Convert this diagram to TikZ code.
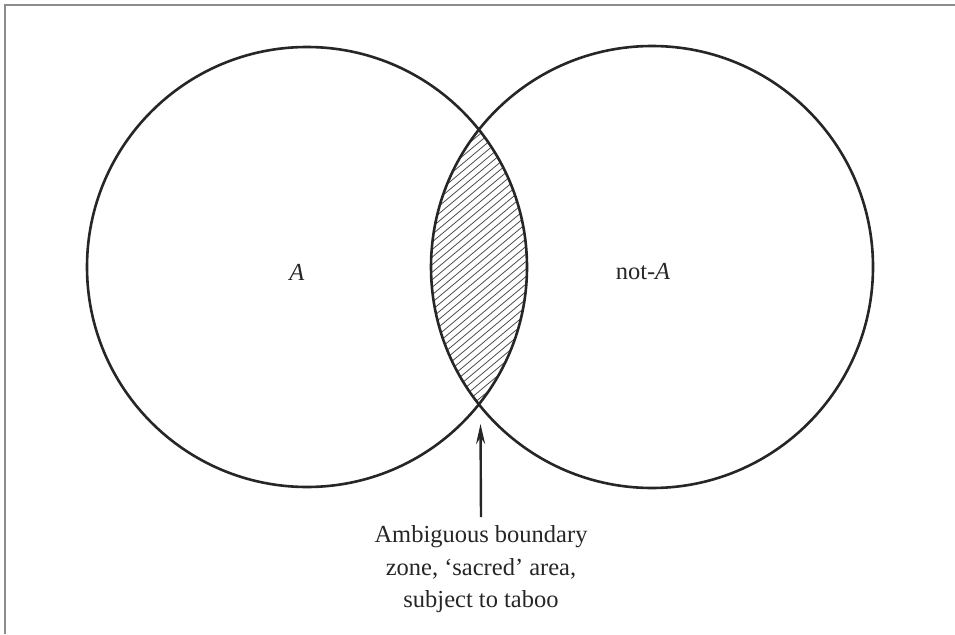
\documentclass[tikz,border=0pt]{standalone}
\usepackage{fontspec}
\setmainfont{Liberation Serif}
\usetikzlibrary{arrows.meta}
\begin{document}
\begin{tikzpicture}[x=1pt,y=-1pt,
  ring/.style={circle, draw=black!85, line width=2.6pt, inner sep=0pt},
  hatch/.style={draw=black!70, line width=0.8pt},
  lbl/.style={font=\fontsize{24.5}{32.5}\selectfont, text=black!85},
  pointer/.style={draw=black!85, line width=2.4pt, -{Stealth[length=20pt,width=9pt]}},
  frameline/.style={draw=black!45, line width=2pt}]
\useasboundingbox (0,0) rectangle (955,634);
\draw[frameline] (5,634) -- (5,5) -- (955,5);
% hatched lens
\begin{scope}
  \clip (307,267) circle [radius=220pt];
  \clip (652,267) circle [radius=221pt];
  \foreach \k in {-330,-321,...,270} {
    \draw[hatch] (\k,700) -- ++(700,-587);
  }
\end{scope}
\node[ring, minimum size=440pt] (L) at (307,267) {};
\node[ring, minimum size=442pt] (R) at (652,267) {};
\node[lbl] (a) at (297,272) {\textit{A}};
\node[lbl] (na) at (643,272) {not-\textit{A}};
\coordinate (cross) at (480.5,424);
\node[lbl, align=center, anchor=north] (note) at (481,522) {Ambiguous boundary\\zone, ‘sacred’ area,\\subject to taboo};
\draw[pointer] (481,517) -- (cross);
\end{tikzpicture}
\end{document}
